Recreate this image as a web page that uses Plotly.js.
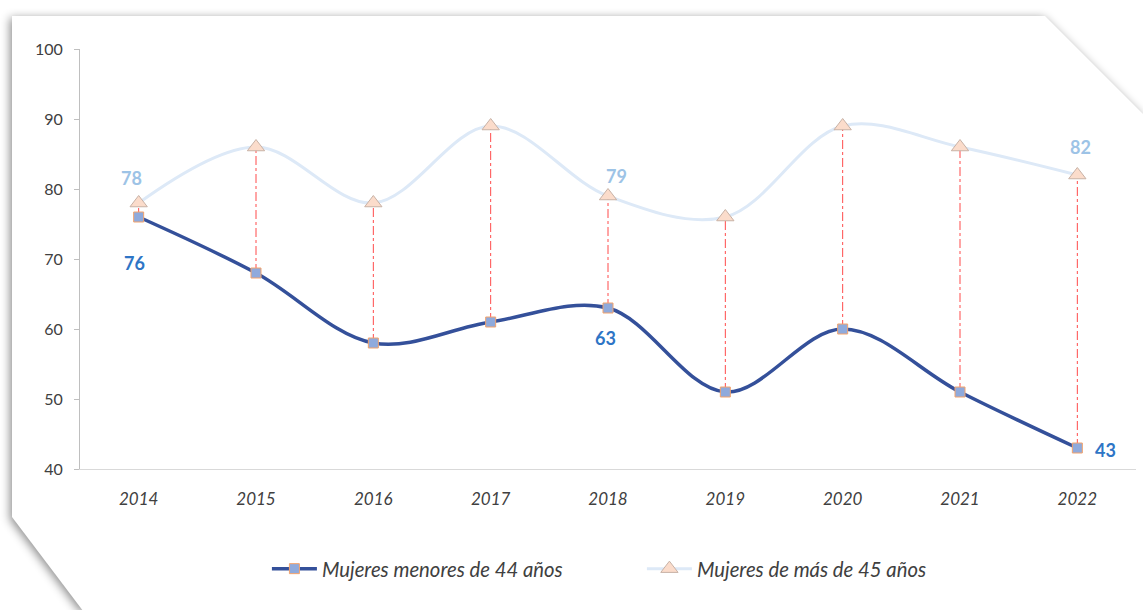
<!DOCTYPE html>
<html>
<head>
<meta charset="utf-8">
<script src="https://cdn.plot.ly/plotly-3.0.1.min.js"></script>
<style>
  html, body { margin: 0; padding: 0; background: #ffffff; width: 1143px; height: 610px; overflow: hidden; }
  #frameWrap { position: absolute; left: 0; top: 0; width: 1143px; height: 610px;
    filter: drop-shadow(-2px 2px 5px rgba(0,0,0,0.45)); }
  #frame { position: absolute; left: 0; top: 0; width: 1143px; height: 610px; background: #ffffff;
    clip-path: polygon(12px 16px, 1045px 16px, 1143px 114px, 1143px 640px, 105px 640px, 12px 517px); }
  #chart { position: absolute; left: 0; top: 0; width: 1143px; height: 610px; }
</style>
</head>
<body>
<div id="frameWrap"><div id="frame"></div></div>
<div id="chart"></div>
<script>
const years = ['2014','2015','2016','2017','2018','2019','2020','2021','2022'];
const menores = [76, 68, 58, 61, 63, 51, 60, 51, 43];
const mayores = [78, 86, 78, 89, 79, 76, 89, 86, 82];
const nameMenores = 'Mujeres menores de 44 años';
const nameMayores = 'Mujeres de más de 45 años';
const labelIdx = [0, 4, 8];

// drop lines between both series
const dropX = [], dropY = [];
years.forEach((y, i) => { dropX.push(y, y, null); dropY.push(menores[i], mayores[i], null); });

const traces = [
  { x: dropX, y: dropY, type: 'scatter', mode: 'lines', showlegend: false, hoverinfo: 'skip',
    line: { color: '#ff4b4b', width: 1, dash: 'dashdot' } },
  { x: years, y: mayores, type: 'scatter', mode: 'lines+markers', name: nameMayores,
    line: { color: '#dde9f7', width: 3, shape: 'spline', smoothing: 1 },
    marker: { symbol: 'triangle-up', size: 15, color: '#fbdccb', line: { color: '#c8b2a6', width: 1 } } },
  { x: years, y: menores, type: 'scatter', mode: 'lines+markers', name: nameMenores,
    line: { color: '#34509a', width: 3.5, shape: 'spline', smoothing: 1 },
    marker: { symbol: 'square', size: 10, color: '#8faadc', line: { color: '#f4a36c', width: 1 } } }
];

const FONT = 'Lato, "Open Sans", sans-serif';
const darkFont = { family: FONT, size: 18, color: '#2e75c6' };
const lightFont = { family: FONT, size: 18, color: '#9dc3e6' };
function ann(i, arr, font, xs, ys) {
  return { xref: 'x', yref: 'y', x: i, y: arr[i], text: '<b>' + String(arr[i]) + '</b>',
    showarrow: false, font: font, xshift: xs, yshift: ys };
}
const annotations = [
  ann(labelIdx[0], mayores, lightFont, -7, 25),
  ann(labelIdx[0], menores, darkFont, -4, -46),
  ann(labelIdx[1], mayores, lightFont, 8, 20),
  ann(labelIdx[1], menores, darkFont, -3, -30),
  ann(labelIdx[2], mayores, lightFont, 3, 28),
  ann(labelIdx[2], menores, darkFont, 28, -2)
];

const layout = {
  width: 1143, height: 610,
  margin: { l: 80, r: 7, t: 49, b: 141 },
  paper_bgcolor: 'rgba(0,0,0,0)', plot_bgcolor: 'rgba(0,0,0,0)',
  showlegend: true,
  legend: { orientation: 'h', x: 0.177, xanchor: 'left', y: -0.238, yanchor: 'middle',
    traceorder: 'reversed', itemwidth: 45, entrywidth: 315,
    font: { family: FONT, size: 20.3, color: '#404040', style: 'italic' } },
  xaxis: { type: 'category', range: [-0.5, 8.5], showline: true, linecolor: '#d9d9d9', linewidth: 1,
    showgrid: false, zeroline: false, ticks: '', ticklabelstandoff: 15,
    tickfont: { family: FONT, size: 17, color: '#404040', style: 'italic' } },
  yaxis: { range: [40, 100], dtick: 10, showline: true, linecolor: '#bfbfbf', linewidth: 1,
    showgrid: false, zeroline: false, ticks: 'outside', ticklen: 5, tickcolor: '#bfbfbf', ticklabelstandoff: 8,
    tickfont: { family: FONT, size: 16, color: '#404040' } },
  annotations: annotations
};

Plotly.newPlot('chart', traces, layout, { displayModeBar: false, staticPlot: true });
</script>
</body>
</html>
